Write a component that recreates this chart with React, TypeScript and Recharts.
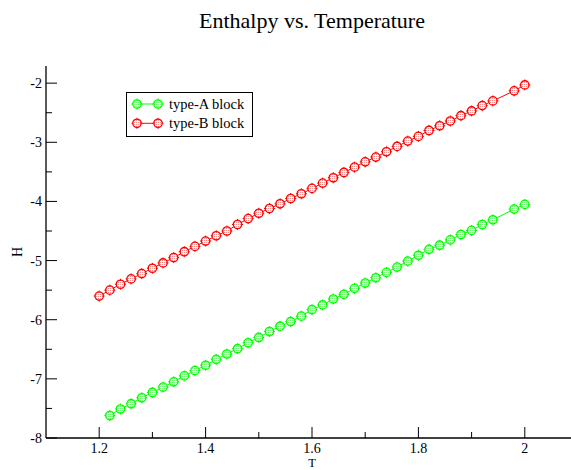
import { LineChart, Line, XAxis, YAxis, Legend, Label } from "recharts";

// type-A block (green) – no point at T = 1.96
const typeAT = [
  1.22, 1.24, 1.26, 1.28, 1.3, 1.32, 1.34, 1.36, 1.38, 1.4,
  1.42, 1.44, 1.46, 1.48, 1.5, 1.52, 1.54, 1.56, 1.58, 1.6,
  1.62, 1.64, 1.66, 1.68, 1.7, 1.72, 1.74, 1.76, 1.78, 1.8,
  1.82, 1.84, 1.86, 1.88, 1.9, 1.92, 1.94, 1.98, 2.0,
];
const typeAH = [
  -7.62, -7.51, -7.42, -7.32, -7.23, -7.14, -7.05, -6.95, -6.86, -6.77,
  -6.67, -6.58, -6.49, -6.39, -6.3, -6.2, -6.11, -6.03, -5.94, -5.83,
  -5.75, -5.65, -5.57, -5.47, -5.38, -5.29, -5.2, -5.11, -5.01, -4.91,
  -4.81, -4.74, -4.65, -4.56, -4.49, -4.39, -4.31, -4.13, -4.05,
];

// type-B block (red)
const typeBT = [
  1.2, 1.22, 1.24, 1.26, 1.28, 1.3, 1.32, 1.34, 1.36, 1.38,
  1.4, 1.42, 1.44, 1.46, 1.48, 1.5, 1.52, 1.54, 1.56, 1.58,
  1.6, 1.62, 1.64, 1.66, 1.68, 1.7, 1.72, 1.74, 1.76, 1.78,
  1.8, 1.82, 1.84, 1.86, 1.88, 1.9, 1.92, 1.94, 1.98, 2.0,
];
const typeBH = [
  -5.6, -5.5, -5.4, -5.31, -5.22, -5.13, -5.04, -4.95, -4.85, -4.76,
  -4.67, -4.58, -4.5, -4.39, -4.29, -4.2, -4.12, -4.04, -3.95, -3.87,
  -3.78, -3.69, -3.6, -3.51, -3.42, -3.33, -3.25, -3.16, -3.07, -2.98,
  -2.9, -2.8, -2.72, -2.64, -2.55, -2.47, -2.38, -2.3, -2.13, -2.03,
];

const xMajor = [1.2, 1.4, 1.6, 1.8, 2.0];
const xMinor = [1.3, 1.5, 1.7, 1.9];
const yMajor = [-8, -7, -6, -5, -4, -3, -2];
const yMinor = [-7.5, -6.5, -5.5, -4.5, -3.5, -2.5];

const FONT = '"Liberation Serif", "Times New Roman", serif';
const GREEN = "#00ff00";
const RED = "#ff0000";

const toRows = (ts: number[], hs: number[]) => ts.map((t, i) => ({ T: t, H: hs[i] }));
const fmt = (v: number) => String(Number(v.toFixed(2)));

const BottomTick = (props: any) => {
  const { x, y, payload } = props;
  const major = xMajor.includes(payload.value);
  return (
    <g>
      <line x1={x} y1={y} x2={x} y2={y - (major ? 11 : 6)} stroke="#000" />
      {major && (
        <text x={x} y={y + 15} textAnchor="middle" fontFamily={FONT} fontSize={14} fill="#000">
          {fmt(payload.value)}
        </text>
      )}
    </g>
  );
};

const TopTick = (props: any) => {
  const { x, y, payload } = props;
  const major = xMajor.includes(payload.value);
  return <line x1={x} y1={y} x2={x} y2={y + (major ? 11 : 6)} stroke="#000" />;
};

const LeftTick = (props: any) => {
  const { x, y, payload } = props;
  const major = yMajor.includes(payload.value);
  return (
    <g>
      <line x1={x} y1={y} x2={x + (major ? 11 : 6)} y2={y} stroke="#000" />
      {major && (
        <text x={x - 4} y={y + 5} textAnchor="end" fontFamily={FONT} fontSize={14} fill="#000">
          {fmt(payload.value)}
        </text>
      )}
    </g>
  );
};

const RightTick = (props: any) => {
  const { x, y, payload } = props;
  const major = yMajor.includes(payload.value);
  return <line x1={x} y1={y} x2={x - (major ? 11 : 6)} y2={y} stroke="#000" />;
};

const makeDot = (color: string, pat: string) => (props: any) => {
  const { cx, cy, index } = props;
  if (cx == null || cy == null) return <g key={index} />;
  return (
    <g key={index}>
      <circle cx={cx} cy={cy} r={4.2} fill={`url(#${pat})`} stroke={color} strokeWidth={1.3} />
      <line x1={cx} y1={cy - 5.5} x2={cx} y2={cy - 3.5} stroke={color} strokeWidth={1} />
      <line x1={cx} y1={cy + 3.5} x2={cx} y2={cy + 5.5} stroke={color} strokeWidth={1} />
      <line x1={cx - 5.5} y1={cy} x2={cx - 3.5} y2={cy} stroke={color} strokeWidth={1} />
      <line x1={cx + 3.5} y1={cy} x2={cx + 5.5} y2={cy} stroke={color} strokeWidth={1} />
    </g>
  );
};

const series = [
  { name: "type-A block", color: GREEN, pat: "dotsA", data: toRows(typeAT, typeAH) },
  { name: "type-B block", color: RED, pat: "dotsB", data: toRows(typeBT, typeBH) },
];

const LegendBox = () => (
  <svg width={127} height={45} style={{ display: "block" }}>
    <rect x={0.5} y={0.5} width={126} height={44} fill="#fff" stroke="#000" />
    {series.map((s, i) => {
      const cy = 12 + i * 19.3;
      return (
        <g key={s.name}>
          <line x1={11} y1={cy} x2={32} y2={cy} stroke={s.color} />
          {[11, 32].map((cx) => (
            <g key={cx}>{makeDot(s.color, s.pat)({ cx, cy, index: cx })}</g>
          ))}
          <text x={43} y={cy + 5} fontFamily={FONT} fontSize={14.5} fill="#000">
            {s.name}
          </text>
        </g>
      );
    })}
  </svg>
);

export default function App() {
  return (
    <div
      style={{
        position: "fixed",
        left: 0,
        top: 0,
        width: 571,
        height: 470,
        overflow: "hidden",
        background: "#fff",
      }}
    >
      <svg width={0} height={0} style={{ position: "absolute" }}>
        <defs>
          <pattern id="dotsA" width={2} height={2} patternUnits="userSpaceOnUse">
            <rect width={2} height={2} fill="#fff" />
            <rect width={1} height={1} fill={GREEN} opacity={0.55} />
          </pattern>
          <pattern id="dotsB" width={2} height={2} patternUnits="userSpaceOnUse">
            <rect width={2} height={2} fill="#fff" />
            <rect width={1} height={1} fill={RED} opacity={0.45} />
          </pattern>
        </defs>
      </svg>
      <div
        style={{
          position: "absolute",
          left: 46,
          top: 10,
          width: 532,
          textAlign: "center",
          fontFamily: FONT,
          fontSize: 22,
          lineHeight: "22px",
          color: "#000",
        }}
      >
        Enthalpy vs. Temperature
      </div>
      <LineChart
        width={590}
        height={470}
        margin={{ top: 66, right: 12, left: 0, bottom: 0 }}
        style={{ position: "absolute", left: 0, top: 0 }}
      >
        <XAxis
          xAxisId="b"
          type="number"
          dataKey="T"
          domain={[1.1, 2.1]}
          ticks={[...xMajor, ...xMinor]}
          interval={0}
          allowDataOverflow
          height={32}
          tickSize={0}
          tickMargin={0}
          tickLine={false}
          axisLine={{ stroke: "#000", strokeWidth: 1.3 }}
          tick={(p: any) => <BottomTick {...p} />}
        >
          <Label
            content={(p: any) => {
              const vb = p.viewBox;
              return (
                <text x={vb.x + vb.width / 2} y={vb.y + 29} textAnchor="middle" fontFamily={FONT} fontSize={12.5} fill="#000">
                  T
                </text>
              );
            }}
          />
        </XAxis>
        <XAxis
          xAxisId="t"
          orientation="top"
          type="number"
          dataKey="T"
          domain={[1.1, 2.1]}
          ticks={[...xMajor, ...xMinor]}
          interval={0}
          allowDataOverflow
          height={0}
          tickSize={0}
          tickMargin={0}
          tickLine={false}
          axisLine={{ stroke: "#000", strokeWidth: 1.3 }}
          tick={(p: any) => <TopTick {...p} />}
        />
        <YAxis
          yAxisId="l"
          type="number"
          domain={[-8, -1.71]}
          ticks={[...yMajor, ...yMinor]}
          interval={0}
          allowDataOverflow
          width={46}
          tickSize={0}
          tickMargin={0}
          tickLine={false}
          axisLine={{ stroke: "#000", strokeWidth: 1.3 }}
          tick={(p: any) => <LeftTick {...p} />}
        >
          <Label
            content={(p: any) => {
              const vb = p.viewBox;
              const cx = vb.x + 17;
              const cy = vb.y + vb.height / 2;
              return (
                <text
                  x={cx}
                  y={cy}
                  transform={`rotate(-90 ${cx} ${cy})`}
                  textAnchor="middle"
                  dominantBaseline="central"
                  fontFamily={FONT}
                  fontSize={14}
                  fill="#000"
                >
                  H
                </text>
              );
            }}
          />
        </YAxis>
        <YAxis
          yAxisId="r"
          orientation="right"
          type="number"
          domain={[-8, -1.71]}
          ticks={[...yMajor, ...yMinor]}
          interval={0}
          allowDataOverflow
          width={0}
          tickSize={0}
          tickMargin={0}
          tickLine={false}
          axisLine={{ stroke: "#000", strokeWidth: 1.3 }}
          tick={(p: any) => <RightTick {...p} />}
        />
        {series.map((s) => (
          <Line
            key={s.name}
            xAxisId="b"
            yAxisId="l"
            data={s.data}
            dataKey="H"
            name={s.name}
            stroke={s.color}
            strokeWidth={1}
            dot={makeDot(s.color, s.pat)}
            activeDot={false}
            isAnimationActive={false}
          />
        ))}
        <Legend
          layout="horizontal"
          verticalAlign="middle"
          align="center"
          width={127}
          height={45}
          wrapperStyle={{ left: 126, top: 92, width: 127, height: 45 }}
          content={() => <LegendBox />}
        />
      </LineChart>
    </div>
  );
}
